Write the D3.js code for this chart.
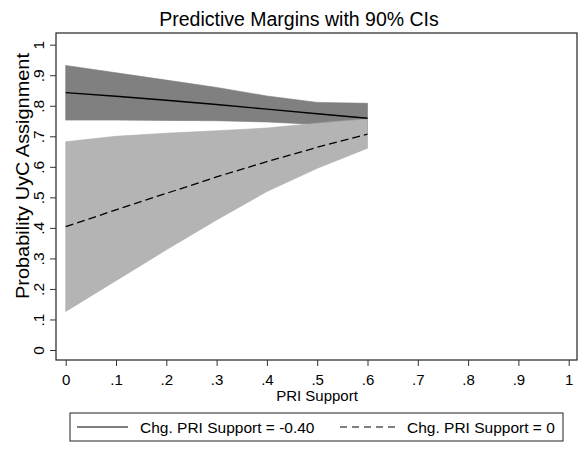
<!DOCTYPE html>
<html><head><meta charset="utf-8">
<script src="https://cdn.jsdelivr.net/npm/d3@7"></script>
<style>body{margin:0;background:#fff}svg{display:block}text{font-family:"Liberation Sans",Arial,sans-serif;fill:#000}</style>
</head><body>
<svg id="c" width="585" height="449"></svg>
<script>
const xVals = [0, 0.1, 0.2, 0.3, 0.4, 0.5, 0.6];
const negMargin = [0.843, 0.831, 0.818, 0.804, 0.789, 0.774, 0.759];
const negLower  = [0.753, 0.753, 0.752, 0.751, 0.747, 0.739, 0.710];
const negUpper  = [0.932, 0.908, 0.884, 0.860, 0.832, 0.811, 0.808];
const zeroMargin = [0.404, 0.459, 0.513, 0.567, 0.617, 0.664, 0.707];
const zeroLower  = [0.126, 0.227, 0.328, 0.426, 0.519, 0.595, 0.661];
const zeroUpper  = [0.682, 0.700, 0.710, 0.718, 0.727, 0.743, 0.757];
const xTicks = [0, 0.1, 0.2, 0.3, 0.4, 0.5, 0.6, 0.7, 0.8, 0.9, 1];
const yTicks = [0, 0.1, 0.2, 0.3, 0.4, 0.5, 0.6, 0.7, 0.8, 0.9, 1];
const fmt = v => v === 0 ? "0" : v === 1 ? "1" : String(v).replace(/^0/, "");
const legendLabels = ["Chg. PRI Support = -0.40", "Chg. PRI Support = 0"];

const svg = d3.select("#c");
const frame = {l: 56, r: 577, t: 33, b: 360};
const x = d3.scaleLinear().domain([0, 1]).range([65.7, 568.7]);
const y = d3.scaleLinear().domain([0, 1]).range([350, 44.7]);

// title
svg.append("text").attr("x", 299).attr("y", 26).attr("text-anchor", "middle")
  .style("font-size", "19.5px").text("Predictive Margins with 90% CIs");

const area = d3.area().x(d => x(d.x)).y0(d => y(d.lo)).y1(d => y(d.hi));
const line = d3.line().x(d => x(d.x)).y(d => y(d.m));
const negData = xVals.map((v, i) => ({x: v, m: negMargin[i], lo: negLower[i], hi: negUpper[i]}));
const zeroData = xVals.map((v, i) => ({x: v, m: zeroMargin[i], lo: zeroLower[i], hi: zeroUpper[i]}));

svg.append("path").datum(negData).attr("d", area).attr("fill", "#808080").attr("stroke", "#7a7a7a").attr("stroke-width", 0.6);
svg.append("path").datum(zeroData).attr("d", area).attr("fill", "#b4b4b4").attr("stroke", "#acacac").attr("stroke-width", 0.6);
svg.append("path").datum(negData).attr("d", line).attr("fill", "none").attr("stroke", "#000").attr("stroke-width", 1.4);
svg.append("path").datum(zeroData).attr("d", line).attr("fill", "none").attr("stroke", "#000").attr("stroke-width", 1.3).attr("stroke-dasharray", "8,4");

// frame
svg.append("rect").attr("x", frame.l).attr("y", frame.t).attr("width", frame.r - frame.l).attr("height", frame.b - frame.t)
  .attr("fill", "none").attr("stroke", "#222").attr("stroke-width", 1.2);

// x axis
const xAxis = svg.append("g").attr("transform", `translate(0,${frame.b})`)
  .call(d3.axisBottom(x).tickValues(xTicks).tickFormat(fmt).tickSize(6));
xAxis.select(".domain").remove();
xAxis.selectAll("line").attr("stroke", "#333").attr("stroke-width", 1);
xAxis.selectAll("text").style("font-size", "15px").attr("font-family", null)
  .attr("y", 25).attr("dy", "0");

// y axis
const yAxis = svg.append("g").attr("transform", `translate(${frame.l},0)`)
  .call(d3.axisLeft(y).tickValues(yTicks).tickFormat(fmt).tickSize(6));
yAxis.select(".domain").remove();
yAxis.selectAll("line").attr("stroke", "#333").attr("stroke-width", 1);
yAxis.selectAll("text").remove();
yAxis.selectAll(".tick").append("text")
  .attr("transform", "translate(-12,0) rotate(-90)")
  .attr("text-anchor", "middle").attr("dy", "0")
  .style("font-size", "15.5px").text(d => fmt(d));

// axis titles
svg.append("text").attr("x", 317).attr("y", 401).attr("text-anchor", "middle").style("font-size", "15px").text("PRI Support");
svg.append("text").attr("transform", "translate(29,176) rotate(-90)").attr("text-anchor", "middle")
  .style("font-size", "18px").attr("textLength", 246).attr("lengthAdjust", "spacingAndGlyphs")
  .text("Probability UyC Assignment");

// legend
const lg = svg.append("g");
lg.append("rect").attr("x", 70).attr("y", 413).attr("width", 493).attr("height", 28).attr("fill", "#fff").attr("stroke", "#222").attr("stroke-width", 1);
lg.append("line").attr("x1", 77).attr("x2", 128).attr("y1", 427).attr("y2", 427).attr("stroke", "#000").attr("stroke-width", 1.2);
lg.append("text").attr("x", 140).attr("y", 432.5).style("font-size", "15.5px").text(legendLabels[0]);
lg.append("line").attr("x1", 340).attr("x2", 400).attr("y1", 427).attr("y2", 427).attr("stroke", "#000").attr("stroke-width", 1.2).attr("stroke-dasharray", "7,5");
lg.append("text").attr("x", 407).attr("y", 432.5).style("font-size", "15.5px").text(legendLabels[1]);
</script>
</body></html>
